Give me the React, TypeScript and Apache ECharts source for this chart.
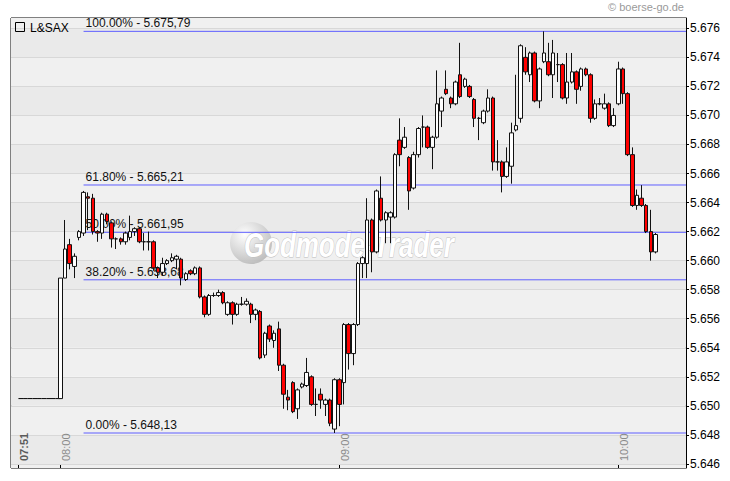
import React, { useEffect, useRef } from 'react';
import * as echarts from 'echarts';

// ---- categories (one per minute, 07:51 .. 10:14) ----
const firstMinute = 7 * 60 + 51;
const slotCount = 144;
const times: string[] = Array.from({ length: slotCount }, (_, i) => {
  const m = firstMinute + i;
  return `${String(Math.floor(m / 60)).padStart(2, '0')}:${String(m % 60).padStart(2, '0')}`;
});
const labelTimes = ['07:51', '08:00', '09:00', '10:00'];

// ---- pre-market quote 07:51 .. 08:00 ----
const preMarket = [5.6505, 5.6505, 5.6505, 5.6505, 5.6505, 5.6505, 5.6505, 5.6505, 5.6505, 5.6505];

// ---- candles from 08:00 on ----
const opens = [
  5.6505, 5.6588, 5.6611, 5.6596, 5.6616, 5.6619, 5.6644, 5.6643, 5.6620, 5.6619,
  5.6632, 5.6626, 5.6615, 5.6615, 5.6613, 5.6616, 5.6620, 5.6622, 5.6613, 5.6613,
  5.6613, 5.6595, 5.6592, 5.6598, 5.6600, 5.6601, 5.6601, 5.6587, 5.6593, 5.6591,
  5.6595, 5.6575, 5.6563, 5.6576, 5.6576, 5.6578, 5.6563, 5.6571, 5.6563, 5.6570,
  5.6570, 5.6570, 5.6563, 5.6565, 5.6535, 5.6555, 5.6545, 5.6553, 5.6528, 5.6506,
  5.6516, 5.6498, 5.6513, 5.6514, 5.6520, 5.6501, 5.6508, 5.6501, 5.6504, 5.6484,
  5.6518, 5.6516, 5.6556, 5.6536, 5.6556, 5.6598, 5.6598, 5.6628, 5.6606, 5.6643,
  5.6628, 5.6630, 5.6630, 5.6683, 5.6678, 5.6671, 5.6650, 5.6673, 5.6692, 5.6692,
  5.6678, 5.6685, 5.6703, 5.6718, 5.6712, 5.6708, 5.6728, 5.6720, 5.6720, 5.6711,
  5.6698, 5.6695, 5.6703, 5.6712, 5.6668, 5.6668, 5.6658, 5.6665, 5.6690, 5.6698,
  5.6740, 5.6728, 5.6743, 5.6710, 5.6737, 5.6737, 5.6728, 5.6735, 5.6735, 5.6712,
  5.6723, 5.6730, 5.6720, 5.6732, 5.6728, 5.6698, 5.6708, 5.6705, 5.6708, 5.6693,
  5.6708, 5.6732, 5.6715, 5.6673, 5.6638, 5.6643, 5.6638, 5.6620, 5.6606,
];
const closes = [
  5.6588, 5.6608, 5.6598, 5.6603, 5.6620, 5.6647, 5.6643, 5.6620, 5.6619, 5.6632,
  5.6627, 5.6615, 5.6615, 5.6613, 5.6619, 5.6620, 5.6622, 5.6613, 5.6613, 5.6613,
  5.6595, 5.6592, 5.6598, 5.6600, 5.6602, 5.6603, 5.6588, 5.6591, 5.6591, 5.6595,
  5.6575, 5.6563, 5.6576, 5.6576, 5.6578, 5.6571, 5.6571, 5.6563, 5.6570, 5.6570,
  5.6572, 5.6563, 5.6566, 5.6533, 5.6550, 5.6546, 5.6550, 5.6528, 5.6508, 5.6504,
  5.6496, 5.6511, 5.6515, 5.6523, 5.6501, 5.6501, 5.6504, 5.6504, 5.6488, 5.6518,
  5.6501, 5.6556, 5.6536, 5.6556, 5.6598, 5.6602, 5.6628, 5.6606, 5.6648, 5.6628,
  5.6633, 5.6633, 5.6673, 5.6673, 5.6685, 5.6648, 5.6673, 5.6691, 5.6692, 5.6678,
  5.6685, 5.6708, 5.6712, 5.6715, 5.6708, 5.6723, 5.6713, 5.6725, 5.6713, 5.6698,
  5.6698, 5.6703, 5.6712, 5.6668, 5.6668, 5.6658, 5.6668, 5.6688, 5.6693, 5.6748,
  5.6730, 5.6743, 5.6710, 5.6732, 5.6743, 5.6728, 5.6743, 5.6735, 5.6712, 5.6723,
  5.6730, 5.6718, 5.6732, 5.6728, 5.6698, 5.6708, 5.6708, 5.6708, 5.6693, 5.6700,
  5.6732, 5.6715, 5.6673, 5.6638, 5.6645, 5.6638, 5.6620, 5.6606, 5.6618,
];
const lows = [
  5.6505, 5.6588, 5.6594, 5.6588, 5.6614, 5.6617, 5.6621, 5.6618, 5.6613, 5.6615,
  5.6625, 5.6609, 5.6608, 5.6611, 5.6611, 5.6614, 5.6617, 5.6612, 5.6607, 5.6607,
  5.6593, 5.6588, 5.6590, 5.6597, 5.6599, 5.6594, 5.6583, 5.6586, 5.6590, 5.6590,
  5.6574, 5.6561, 5.6562, 5.6575, 5.6575, 5.6570, 5.6562, 5.6556, 5.6562, 5.6569,
  5.6569, 5.6557, 5.6559, 5.6532, 5.6533, 5.6544, 5.6540, 5.6524, 5.6498, 5.6497,
  5.6495, 5.6491, 5.6512, 5.6513, 5.6500, 5.6493, 5.6498, 5.6493, 5.6486, 5.64813,
  5.6486, 5.6501, 5.6525, 5.6528, 5.6555, 5.6588, 5.6588, 5.6592, 5.6605, 5.6627,
  5.6612, 5.6612, 5.6629, 5.6665, 5.6677, 5.6635, 5.6649, 5.6671, 5.6678, 5.6677,
  5.6663, 5.6684, 5.6692, 5.6714, 5.6705, 5.6707, 5.6712, 5.6719, 5.6712, 5.6692,
  5.6683, 5.6694, 5.6702, 5.6662, 5.6662, 5.6647, 5.6657, 5.6653, 5.6689, 5.6695,
  5.6728, 5.6723, 5.6709, 5.6705, 5.6736, 5.6727, 5.6712, 5.6723, 5.6711, 5.6708,
  5.6722, 5.6708, 5.6717, 5.6727, 5.6695, 5.6697, 5.6707, 5.6704, 5.6692, 5.6692,
  5.6707, 5.6708, 5.6672, 5.6637, 5.6635, 5.6637, 5.6619, 5.6600, 5.6605,
];
const highs = [
  5.6588, 5.6628, 5.6615, 5.6605, 5.6621, 5.6648, 5.6647, 5.6646, 5.6621, 5.6633,
  5.6633, 5.6627, 5.6616, 5.6616, 5.6620, 5.6631, 5.6623, 5.6623, 5.6619, 5.6620,
  5.6614, 5.6596, 5.6602, 5.6601, 5.6605, 5.6604, 5.6602, 5.6592, 5.6594, 5.6596,
  5.6596, 5.6576, 5.6577, 5.6578, 5.6580, 5.6579, 5.6572, 5.6572, 5.6571, 5.6575,
  5.6574, 5.6571, 5.6567, 5.6566, 5.6551, 5.6556, 5.6552, 5.6558, 5.6529, 5.6511,
  5.6517, 5.6512, 5.6516, 5.6533, 5.6521, 5.6512, 5.6512, 5.6505, 5.6505, 5.6519,
  5.6519, 5.6557, 5.6557, 5.6557, 5.6599, 5.6603, 5.6643, 5.6629, 5.6649, 5.6658,
  5.6634, 5.6634, 5.6674, 5.6698, 5.6692, 5.6672, 5.6675, 5.6692, 5.6700, 5.6693,
  5.6686, 5.6731, 5.6713, 5.6731, 5.6713, 5.6724, 5.6750, 5.6726, 5.6721, 5.6712,
  5.6699, 5.6704, 5.6718, 5.6713, 5.6683, 5.6669, 5.6678, 5.6695, 5.6728, 5.6749,
  5.6747, 5.6744, 5.6744, 5.6733, 5.67579, 5.6750, 5.6752, 5.6743, 5.6736, 5.6743,
  5.6743, 5.6731, 5.6733, 5.6733, 5.6729, 5.6711, 5.6712, 5.6715, 5.6709, 5.6705,
  5.6737, 5.6733, 5.6716, 5.6678, 5.6649, 5.6652, 5.6639, 5.6635, 5.6619,
];

// ---- Fibonacci retracement of the session range ----
const fibLevels = [5.67579, 5.66521, 5.66195, 5.65868, 5.64813];
const fibTexts = ['100.00% - 5.675,79', '61.80% - 5.665,21', '50.00% - 5.661,95', '38.20% - 5.658,68', '0.00% - 5.648,13'];
const fibFrom = '08:05';

// ---- value axis ----
const yMin = 5.64572;
const yMax = 5.67671;
const yStep = 0.002;

// ---- layout ----
const W = 730;
const H = 481;
const PLOT_L = 11;
const PLOT_T = 18;
const PLOT_W = 675;
const PLOT_H = 450;
const SLOT = 4.65;
const FIRST_CANDLE_X = 60.3;
const CANDLE_L = FIRST_CANDLE_X - (times.indexOf('08:00') + 0.5) * SLOT;
// the full-width grid uses the same "slot index" units as the candle grid
const SLOT_MIN = (PLOT_L - CANDLE_L) / SLOT - 0.5;
const SLOT_MAX = (PLOT_L + PLOT_W - CANDLE_L) / SLOT - 0.5;
const FONT = 'Liberation Sans, Arial, sans-serif';
const FIB_COLOR = '#5f5fff';

export default function App() {
  const ref = useRef<HTMLDivElement>(null);

  useEffect(() => {
    if (!ref.current) return;
    const chart = echarts.init(ref.current, undefined, { renderer: 'svg' });
    const startIdx = times.indexOf('08:00');
    const fromIdx = times.indexOf(fibFrom);
    const candleData = opens.map((o, k) => [times[startIdx + k], o, closes[k], lows[k], highs[k]]);
    const preData = preMarket.map((v, i) => [times[i], v]);
    const isLabel = (_i: number, v: string) => labelTimes.includes(v);

    const fibSeries = fibLevels.map((lvl, i) => ({
      name: fibTexts[i],
      type: 'line',
      xAxisIndex: 0, yAxisIndex: 0,
      data: [[fromIdx, lvl], [SLOT_MAX, lvl]],
      symbol: 'none',
      silent: true,
      z: 2,
      lineStyle: { color: FIB_COLOR, width: 1 },
    }));

    const option: any = {
      animation: false,
      backgroundColor: '#ffffff',
      textStyle: { fontFamily: FONT },
      grid: [
        {
          left: PLOT_L, top: PLOT_T, width: PLOT_W, height: PLOT_H,
          show: true, borderColor: '#000', borderWidth: 1, backgroundColor: 'transparent',
        },
        { left: CANDLE_L, top: PLOT_T, width: slotCount * SLOT, height: PLOT_H, show: false },
      ],
      xAxis: [
        { gridIndex: 0, type: 'value', min: SLOT_MIN, max: SLOT_MAX, show: false, axisLine: { onZero: false } },
        {
          gridIndex: 1,
          type: 'category',
          data: times,
          boundaryGap: true,
          axisLine: { show: false, onZero: false },
          axisTick: {
            show: true, inside: true, length: 3, alignWithLabel: true, interval: isLabel,
            lineStyle: { color: '#000', width: 1 },
          },
          axisLabel: {
            inside: true, rotate: 90, margin: 5, interval: isLabel,
            verticalAlign: 'top', padding: [0, 0, 0, 2], color: '#8a8a8a', fontSize: 11, fontFamily: FONT,
            formatter: (v: string) => (v === times[0] ? `{first|${v}}` : v),
            rich: { first: { color: '#5a5a5a', fontWeight: 'bold', fontSize: 11, fontFamily: FONT } },
          },
          splitLine: { show: false },
        },
      ],
      yAxis: [
        {
          gridIndex: 0, type: 'value', position: 'right',
          min: yMin, max: yMax, splitNumber: 15, minInterval: yStep, maxInterval: yStep,
          axisLine: { show: true, onZero: false, lineStyle: { color: '#000', width: 1 } },
          axisTick: { show: true, length: 3, lineStyle: { color: '#000' } },
          axisLabel: {
            color: '#000', fontSize: 12, fontFamily: FONT, margin: 4,
            showMinLabel: false, showMaxLabel: false,
            formatter: (v: number) => v.toFixed(3),
          },
          splitLine: { show: true, showMinLine: false, showMaxLine: false, lineStyle: { color: '#d8d8d8', width: 1 } },
          splitArea: { show: true, areaStyle: { color: ['#f0f0f0', '#eaeaea'] } },
        },
        { gridIndex: 1, type: 'value', min: yMin, max: yMax, show: false, axisLine: { onZero: false }, splitLine: { show: false } },
      ],
      graphic: [
        {
          type: 'circle', z: 1, silent: true,
          shape: { cx: 251, cy: 243, r: 21 },
          style: {
            fill: new echarts.graphic.RadialGradient(0.35, 0.3, 0.8, [
              { offset: 0, color: 'rgba(255,255,255,0.95)' },
              { offset: 0.6, color: 'rgba(210,210,210,0.9)' },
              { offset: 1, color: 'rgba(175,175,175,0.85)' },
            ]),
          },
        },
        {
          type: 'text', z: 1, silent: true, x: 244, y: 245, scaleX: 0.72,
          style: {
            text: 'Godmode-Trader', fill: '#ffffff', stroke: '#bdbdbd', lineWidth: 1,
            font: `italic bold 36px ${FONT}`, verticalAlign: 'middle', align: 'left',
            shadowColor: 'rgba(0,0,0,0.4)', shadowBlur: 3, shadowOffsetX: 2, shadowOffsetY: 2,
          },
        },
        {
          type: 'rect', z: 10, silent: true,
          shape: { x: 15.5, y: 22.5, width: 9, height: 9 },
          style: { fill: 'transparent', stroke: '#000', lineWidth: 1 },
        },
        {
          type: 'text', z: 10, silent: true, x: 30, y: 27.5,
          style: { text: 'L&SAX', fill: '#000', font: `12px ${FONT}`, verticalAlign: 'middle' },
        },
        {
          type: 'text', z: 10, silent: true, x: 684, y: 7,
          style: { text: '© boerse-go.de', fill: '#9a9a9a', font: `11px ${FONT}`, align: 'right', verticalAlign: 'middle' },
        },
      ],
      series: [
        ...fibSeries,
        {
          name: 'pre',
          type: 'line',
          xAxisIndex: 1, yAxisIndex: 1,
          data: preData,
          symbol: 'none',
          z: 2,
          lineStyle: { color: '#000', width: 1 },
          markPoint: {
            silent: true,
            z: 2,
            symbol: 'rect',
            symbolSize: 0.01,
            itemStyle: { color: 'transparent' },
            label: {
              show: true, position: 'right', distance: 2, offset: [0, -8],
              formatter: '{b}', color: '#111', fontSize: 12, fontFamily: FONT,
            },
            data: fibLevels.map((lvl, i) => ({ name: fibTexts[i], coord: [fromIdx, lvl] })),
          },
        },
        {
          name: 'L&SAX',
          type: 'candlestick',
          xAxisIndex: 1, yAxisIndex: 1,
          z: 3,
          barWidth: 4,
          encode: { x: 0, y: [1, 2, 3, 4] },
          data: candleData,
          itemStyle: {
            color: '#ffffff', color0: '#ff0000',
            borderColor: '#111', borderColor0: '#111', borderWidth: 1,
          },
        },
      ],
    };
    chart.setOption(option);
    return () => chart.dispose();
  }, []);

  return <div ref={ref} style={{ position: 'absolute', left: 0, top: 0, width: W, height: H }} />;
}
